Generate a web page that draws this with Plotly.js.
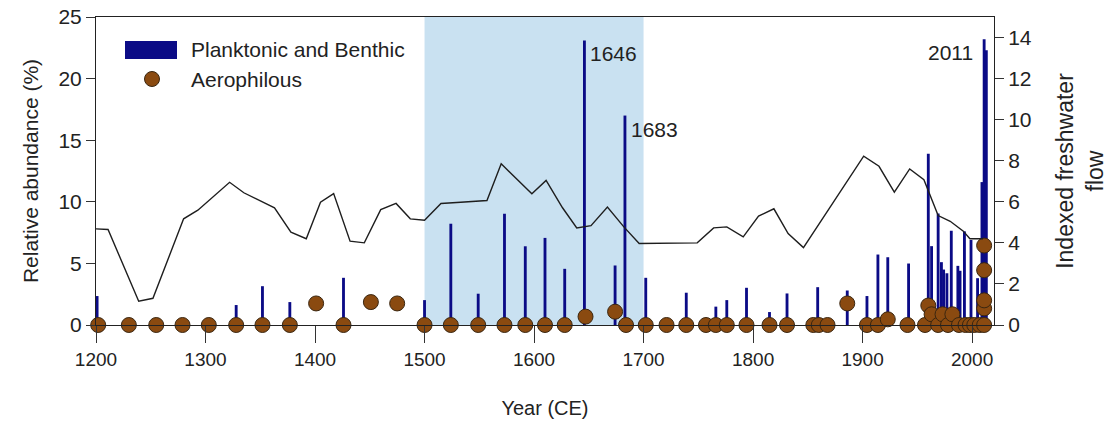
<!DOCTYPE html>
<html>
<head>
<meta charset="utf-8">
<script src="https://cdn.plot.ly/plotly-3.0.1.min.js"></script>
<style>
  html, body { margin: 0; padding: 0; background: #ffffff; }
  #chart { width: 1117px; height: 430px; }
</style>
</head>
<body>
<div id="chart"></div>
<script>
// Planktonic and benthic diatom abundance (%), one bar per sample year
const barYears = [1201, 1328, 1352, 1377, 1426, 1500, 1524, 1549, 1573, 1592, 1610, 1628, 1646, 1674, 1683,
  1702, 1739, 1766, 1776, 1794, 1815, 1831, 1859, 1886, 1904, 1914, 1923, 1942,
  1960, 1963, 1969, 1972, 1974, 1977, 1981, 1987, 1989, 1993, 1999, 2005, 2009, 2011, 2013];
const barValues = [2.35, 1.62, 3.15, 1.86, 3.83, 2.02, 8.22, 2.54, 9.03, 6.39, 7.07, 4.56, 23.1, 4.83, 17.0,
  3.83, 2.62, 1.49, 2.02, 3.02, 1.05, 2.56, 3.07, 2.8, 2.35, 5.72, 5.5, 4.99,
  13.9, 6.4, 9.05, 5.1, 4.5, 4.2, 7.65, 4.8, 4.4, 7.6, 6.9, 3.8, 11.6, 23.2, 22.3];

// Aerophilous diatom abundance (%)
const dotYears = [1202, 1230, 1255, 1279, 1303, 1328, 1352, 1377, 1401, 1426, 1451, 1475,
  1500, 1524, 1549, 1573, 1592, 1610, 1628, 1647, 1674, 1684, 1702, 1721, 1739, 1757, 1766, 1776,
  1794, 1815, 1831, 1855, 1860, 1868, 1886, 1904, 1914, 1923, 1941, 1957, 1960, 1963, 1969, 1973,
  1978, 1982, 1988, 1994, 1998, 2002, 2007, 2011, 2011, 2011, 2011, 2011];
const dotValues = [0, 0, 0, 0, 0, 0, 0, 0, 1.75, 0, 1.86, 1.75,
  0, 0, 0, 0, 0, 0, 0, 0.68, 1.08, 0, 0, 0, 0, 0, 0, 0,
  0, 0, 0, 0, 0, 0, 1.75, 0, 0, 0.46, 0, 0, 1.58, 0.87, 0, 0.87,
  0, 0.87, 0, 0, 0, 0, 0, 0, 1.35, 2.0, 4.45, 6.45];

// Indexed freshwater flow (right axis)
const flowYears = [1200, 1211, 1239, 1252, 1280, 1293, 1322, 1335, 1363, 1378, 1392, 1405, 1417, 1432,
  1445, 1460, 1474, 1487, 1500, 1515, 1533, 1557, 1570, 1598, 1611, 1626, 1639, 1652, 1667, 1682,
  1696, 1749, 1764, 1776, 1791, 1805, 1819, 1832, 1846, 1901, 1915, 1929, 1943, 1956, 1969, 1980,
  1992, 1998, 2010];
const flowValues = [4.68, 4.65, 1.16, 1.30, 5.17, 5.59, 6.95, 6.44, 5.71, 4.52, 4.20, 5.98, 6.40, 4.08,
  4.00, 5.62, 5.92, 5.17, 5.10, 5.92, 5.98, 6.06, 7.85, 6.39, 7.04, 5.71, 4.73, 4.84, 5.74, 4.78,
  3.97, 4.00, 4.73, 4.78, 4.29, 5.30, 5.66, 4.45, 3.77, 8.22, 7.73, 6.47, 7.60, 7.08, 5.33, 5.05,
  4.57, 4.20, 4.20];

// Highlighted peaks and the shaded period
const peakYears = [1646, 1683, 2011];
const shadedPeriod = [1500, 1700];
const xTicks = [1200, 1300, 1400, 1500, 1600, 1700, 1800, 1900, 2000];

const NAVY = '#0b0b86';
const BROWN = '#8a4a10';
const FONT = 'Liberation Sans, Arial, Helvetica, sans-serif';
const TEXT = '#222222';

const traces = [
  {
    type: 'bar',
    x: barYears,
    y: barValues,
    width: barYears.map(() => 2.6),
    marker: { color: NAVY, line: { width: 0 } },
    hoverinfo: 'x+y',
    showlegend: false
  },
  {
    type: 'scatter',
    mode: 'markers',
    x: dotYears,
    y: dotValues,
    cliponaxis: false,
    marker: { size: 15, color: BROWN, line: { width: 1, color: '#3a2610' } },
    showlegend: false
  },
  {
    type: 'scatter',
    mode: 'lines',
    x: flowYears,
    y: flowValues,
    yaxis: 'y2',
    line: { color: '#1e1e1e', width: 1.4 },
    showlegend: false
  }
];

// Peak labels sit just beside the top of their bars
const peakAnnotations = peakYears.map((yr, i) => {
  const v = barValues[barYears.indexOf(yr)];
  const rightSide = i < 2;
  return {
    x: yr, y: v, xref: 'x', yref: 'y',
    text: String(yr),
    showarrow: false,
    xanchor: rightSide ? 'left' : 'right',
    yanchor: 'top',
    xshift: rightSide ? 4 : -9,
    yshift: 0,
    font: { family: FONT, size: 21, color: TEXT }
  };
});

// Legend drawn in paper coordinates (plot area is 898 x 308 px)
const pw = 898, ph = 308;
const px = v => v / pw;
const py = v => 1 - v / ph;

const legendShapes = [
  { type: 'rect', xref: 'paper', yref: 'paper',
    x0: px(29), x1: px(81), y0: py(42), y1: py(24),
    fillcolor: NAVY, line: { width: 0 } },
  { type: 'circle', xref: 'paper', yref: 'paper',
    x0: px(48.5), x1: px(63.5), y0: py(69.5), y1: py(54.5),
    fillcolor: BROWN, line: { width: 1, color: '#3a2610' } }
];

const legendAnnotations = [
  { xref: 'paper', yref: 'paper', x: px(93), y: py(33), xanchor: 'left', yanchor: 'middle',
    text: 'Planktonic and Benthic', showarrow: false,
    font: { family: FONT, size: 21, color: TEXT } },
  { xref: 'paper', yref: 'paper', x: px(93), y: py(62), xanchor: 'left', yanchor: 'middle',
    text: 'Aerophilous', showarrow: false,
    font: { family: FONT, size: 21, color: TEXT } }
];

const layout = {
  width: 1117,
  height: 430,
  margin: { l: 96, r: 123, t: 17, b: 105 },
  paper_bgcolor: '#ffffff',
  plot_bgcolor: 'rgba(0,0,0,0)',
  font: { family: FONT, size: 20, color: TEXT },
  barmode: 'overlay',
  showlegend: false,
  xaxis: {
    range: [1200, 2020],
    tickvals: xTicks,
    ticks: 'outside', ticklen: 17, tickwidth: 1, tickcolor: '#333',
    showline: true, linecolor: '#222', linewidth: 1, mirror: true,
    showgrid: false, zeroline: false,
    tickfont: { family: FONT, size: 19, color: TEXT },
    title: { text: 'Year (CE)', standoff: 32, font: { family: FONT, size: 20, color: TEXT } }
  },
  yaxis: {
    range: [0, 25],
    tickvals: [0, 5, 10, 15, 20, 25],
    ticks: 'outside', ticklen: 9, tickwidth: 1, tickcolor: '#333',
    showline: true, linecolor: '#222', linewidth: 1,
    showgrid: false, zeroline: false,
    tickfont: { family: FONT, size: 21, color: TEXT },
    title: { text: 'Relative abundance (%)', standoff: 14, font: { family: FONT, size: 21, color: TEXT } }
  },
  yaxis2: {
    overlaying: 'y', side: 'right',
    range: [0, 15],
    tickvals: [0, 2, 4, 6, 8, 10, 12, 14],
    ticks: 'outside', ticklen: 9, tickwidth: 1, tickcolor: '#333',
    showline: true, linecolor: '#222', linewidth: 1,
    showgrid: false, zeroline: false,
    tickfont: { family: FONT, size: 21, color: TEXT },
    title: { text: 'Indexed freshwater<br>flow', standoff: 26, font: { family: FONT, size: 23, color: TEXT } }
  },
  shapes: [
    { type: 'rect', xref: 'x', yref: 'paper', x0: shadedPeriod[0], x1: shadedPeriod[1], y0: 0, y1: 1,
      fillcolor: '#c9e1f1', line: { width: 0 }, layer: 'below' }
  ].concat(legendShapes),
  annotations: peakAnnotations.concat(legendAnnotations)
};

Plotly.newPlot('chart', traces, layout, { displayModeBar: false, staticPlot: true });
</script>
</body>
</html>
